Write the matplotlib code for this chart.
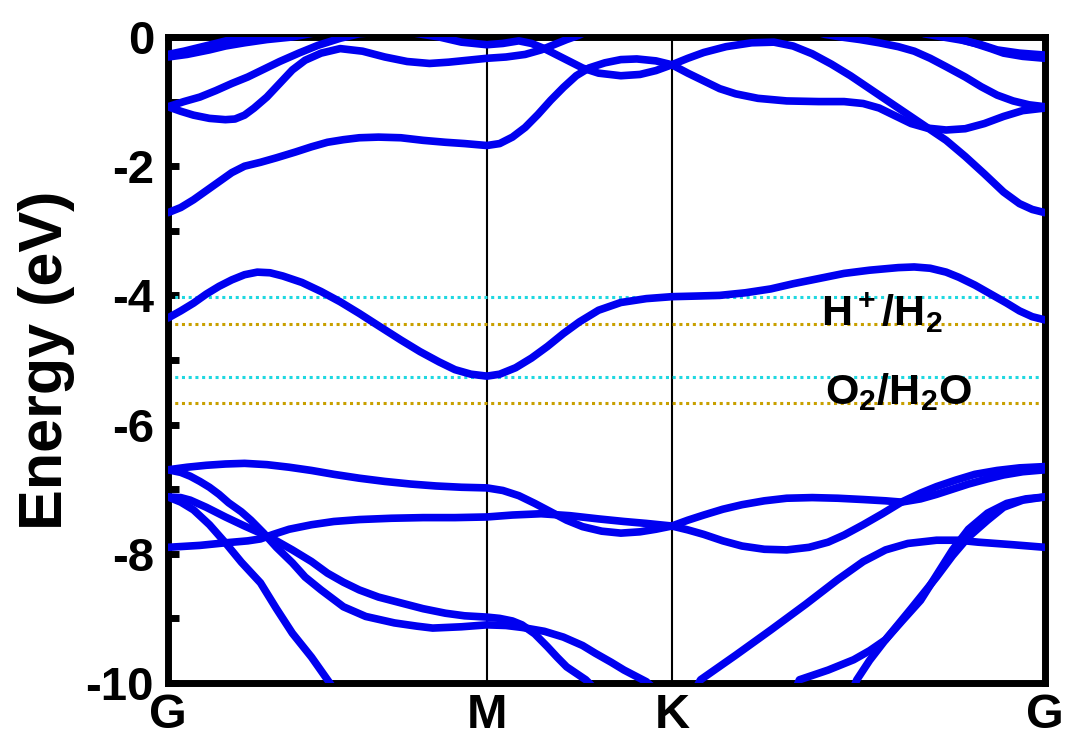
import numpy as np
import matplotlib
matplotlib.use("Agg")
import matplotlib.pyplot as plt

plt.rcParams["font.family"] = ["Liberation Sans", "DejaVu Sans"]
plt.rcParams["font.weight"] = "bold"
plt.rcParams["axes.unicode_minus"] = False
plt.rcParams["mathtext.fontset"] = "custom"
plt.rcParams["mathtext.rm"] = "Liberation Sans:bold"
plt.rcParams["mathtext.it"] = "Liberation Sans:bold"
plt.rcParams["mathtext.bf"] = "Liberation Sans:bold"

# high symmetry points (path length, G-M = 1)
k_ticks = [0.0, 1.0, 1.58, 2.75]
k_labels = ["G", "M", "K", "G"]

# bands: (k, E in eV)
band1_k = [0, 0.06, 0.13, 0.18, 0.24, 0.31, 0.39, 0.5]
band1_e = [-0.31, -0.27, -0.2, -0.14, -0.09, -0.04, 0.0, 0.1]
band2_k = [0, 0.05, 0.10, 0.15, 0.19, 0.24, 0.29, 0.4]
band2_e = [-0.27, -0.22, -0.16, -0.1, -0.05, -0.01, 0.03, 0.1]
band3_k = [0, 0.05, 0.10, 0.15, 0.20, 0.25, 0.30, 0.35, 0.41, 0.47, 0.54, 0.60, 0.72, 0.85, 0.92,
           1.0, 1.05, 1.10, 1.14, 1.18, 1.22, 1.26, 1.30, 1.35, 1.42, 1.48, 1.53, 1.58, 1.63, 1.68,
           1.75, 1.83, 1.90, 1.96, 2.02, 2.08, 2.14, 2.20, 2.26, 2.32, 2.38, 2.44, 2.50, 2.56, 2.62,
           2.67, 2.71, 2.75]
band3_e = [-1.08, -1.0, -0.93, -0.83, -0.72, -0.62, -0.5, -0.38, -0.25, -0.13, -0.02, 0.05, 0.1, 0.0,
           -0.08, -0.12, -0.1, -0.06, -0.1, -0.18, -0.28, -0.38, -0.48, -0.56, -0.6, -0.58, -0.52,
           -0.43, -0.33, -0.24, -0.15, -0.09, -0.08, -0.14, -0.26, -0.42, -0.6, -0.8, -1.0, -1.2,
           -1.4, -1.6, -1.85, -2.12, -2.4, -2.58, -2.67, -2.72]
band4_k = [0, 0.04, 0.08, 0.13, 0.18, 0.21, 0.24, 0.27, 0.31, 0.35, 0.39, 0.43, 0.48, 0.54, 0.61,
           0.68, 0.75, 0.82, 0.88, 0.94, 1.0, 1.06, 1.12, 1.17, 1.21, 1.25, 1.29, 1.40, 1.6, 1.85,
           1.98, 2.06, 2.11, 2.17, 2.23, 2.29, 2.34, 2.39, 2.44, 2.50, 2.55, 2.60, 2.65, 2.70, 2.75]
band4_e = [-1.08, -1.15, -1.21, -1.26, -1.28, -1.27, -1.21, -1.1, -0.93, -0.72, -0.51, -0.36, -0.25,
           -0.18, -0.22, -0.31, -0.38, -0.41, -0.39, -0.36, -0.33, -0.31, -0.27, -0.2, -0.12, -0.04,
           0.03, 0.3, 0.5, 0.35, 0.15, 0.04, 0.0, -0.04, -0.09, -0.15, -0.22, -0.33, -0.46, -0.62,
           -0.77, -0.9, -0.99, -1.05, -1.08]
band5_k = [0, 0.04, 0.08, 0.12, 0.16, 0.20, 0.24, 0.29, 0.34, 0.40, 0.45, 0.50, 0.55, 0.60, 0.66,
           0.73, 0.80, 0.87, 0.93, 1.0, 1.04, 1.08, 1.12, 1.16, 1.20, 1.24, 1.28, 1.32, 1.37, 1.42,
           1.47, 1.53, 1.58, 1.63, 1.68, 1.73, 1.78, 1.85, 1.94, 2.04, 2.12, 2.18, 2.23, 2.28, 2.33,
           2.38, 2.44, 2.50, 2.56, 2.62, 2.68, 2.75]
band5_e = [-2.72, -2.64, -2.52, -2.38, -2.24, -2.1, -2.0, -1.94, -1.87, -1.78, -1.7, -1.63, -1.59,
           -1.56, -1.55, -1.56, -1.6, -1.63, -1.65, -1.68, -1.65, -1.55, -1.4, -1.2, -0.98, -0.78,
           -0.6, -0.48, -0.4, -0.35, -0.34, -0.37, -0.43, -0.56, -0.68, -0.8, -0.88, -0.95, -0.99,
           -1.0, -1.0, -1.03, -1.1, -1.22, -1.34, -1.41, -1.44, -1.42, -1.34, -1.23, -1.14, -1.1]
band6_k = [2.37, 2.43, 2.49, 2.55, 2.60, 2.67, 2.75]
band6_e = [0.05, 0.0, -0.05, -0.12, -0.2, -0.25, -0.28]
band7_k = [2.42, 2.48, 2.53, 2.58, 2.62, 2.68, 2.75]
band7_e = [0.05, -0.03, -0.1, -0.18, -0.25, -0.3, -0.33]
band8_k = [0, 0.04, 0.08, 0.12, 0.16, 0.20, 0.24, 0.28, 0.32, 0.36, 0.42, 0.48, 0.54, 0.60, 0.66,
           0.73, 0.79, 0.85, 0.90, 0.95, 1.0, 1.04, 1.09, 1.14, 1.19, 1.24, 1.29, 1.35, 1.42, 1.50,
           1.58, 1.66, 1.73, 1.81, 1.89, 1.96, 2.04, 2.12, 2.20, 2.29, 2.34, 2.39, 2.44, 2.48, 2.53,
           2.58, 2.63, 2.67, 2.71, 2.75]
band8_e = [-4.35, -4.24, -4.12, -3.98, -3.86, -3.76, -3.68, -3.64, -3.65, -3.7, -3.8, -3.94, -4.1,
           -4.28, -4.47, -4.69, -4.87, -5.03, -5.15, -5.22, -5.25, -5.22, -5.12, -4.97, -4.79, -4.59,
           -4.41, -4.23, -4.11, -4.05, -4.02, -4.01, -4.0, -3.96, -3.9, -3.82, -3.74, -3.66, -3.61,
           -3.57, -3.56, -3.58, -3.64, -3.72, -3.84, -3.98, -4.12, -4.24, -4.33, -4.38]
band9_k = [0, 0.06, 0.12, 0.18, 0.24, 0.31, 0.38, 0.45, 0.52, 0.60, 0.68, 0.76, 0.84, 0.92, 1.0,
           1.05, 1.10, 1.15, 1.20, 1.25, 1.30, 1.36, 1.42, 1.48, 1.53, 1.58, 1.63, 1.68, 1.74, 1.80,
           1.87, 1.94, 2.02, 2.10, 2.18, 2.25, 2.30, 2.36, 2.41, 2.46, 2.51, 2.57, 2.62, 2.68, 2.75]
band9_e = [-6.7, -6.66, -6.63, -6.61, -6.6, -6.62, -6.66, -6.71, -6.77, -6.83, -6.88, -6.92, -6.95,
           -6.97, -6.98, -7.02, -7.1, -7.22, -7.35, -7.48, -7.58, -7.65, -7.68, -7.66, -7.62, -7.57,
           -7.48, -7.4, -7.31, -7.24, -7.18, -7.14, -7.13, -7.14, -7.16, -7.18, -7.2, -7.15, -7.08,
           -7.0, -6.92, -6.84, -6.78, -6.73, -6.7]
band10_k = [0, 0.1, 0.18, 0.25, 0.29, 0.33, 0.38, 0.45, 0.52, 0.6, 0.7, 0.8, 0.9, 1.0, 1.08, 1.17,
            1.26, 1.35, 1.43, 1.50, 1.58, 1.63, 1.68, 1.74, 1.80, 1.87, 1.94, 2.01, 2.07, 2.12, 2.18,
            2.24, 2.30, 2.36, 2.41, 2.47, 2.53, 2.60, 2.67, 2.75]
band10_e = [-7.9, -7.87, -7.83, -7.8, -7.77, -7.7, -7.62, -7.55, -7.5, -7.47, -7.45, -7.44, -7.44,
            -7.43, -7.4, -7.38, -7.41, -7.46, -7.5, -7.53, -7.57, -7.63, -7.7, -7.8, -7.88, -7.93,
            -7.94, -7.9, -7.82, -7.71, -7.55, -7.38, -7.2, -7.06, -6.96, -6.86, -6.77, -6.71, -6.67,
            -6.65]
band11_k = [0, 0.04, 0.07, 0.10, 0.13, 0.16, 0.19, 0.23, 0.26, 0.30, 0.34, 0.39, 0.43, 0.48, 0.55,
            0.62, 0.71, 0.78, 0.83, 0.92, 1.0, 1.06, 1.11, 1.18, 1.24, 1.30, 1.34, 1.39, 1.43, 1.50,
            1.55]
band11_e = [-6.7, -6.74, -6.8, -6.88, -6.97, -7.08, -7.21, -7.35, -7.48, -7.68, -7.9, -8.14, -8.36,
            -8.56, -8.82, -8.97, -9.07, -9.12, -9.15, -9.13, -9.1, -9.11, -9.14, -9.2, -9.29, -9.42,
            -9.54, -9.68, -9.8, -9.98, -10.2]
band12_k = [0, 0.04, 0.07, 0.12, 0.18, 0.24, 0.29, 0.34, 0.39, 0.45, 0.50, 0.55, 0.60, 0.66, 0.73,
            0.80, 0.87, 0.93, 1.0, 1.04, 1.08, 1.11, 1.15, 1.19, 1.22, 1.25, 1.31, 1.36]
band12_e = [-7.12, -7.13, -7.17, -7.28, -7.43, -7.57, -7.68, -7.8, -7.94, -8.12, -8.3, -8.44, -8.56,
            -8.67, -8.76, -8.85, -8.92, -8.96, -8.98, -9.0, -9.04, -9.1, -9.24, -9.44, -9.6, -9.75,
            -9.95, -10.2]
band13_k = [0, 0.04, 0.08, 0.13, 0.18, 0.23, 0.29, 0.34, 0.39, 0.45, 0.50, 0.55]
band13_e = [-7.12, -7.2, -7.32, -7.55, -7.83, -8.13, -8.45, -8.85, -9.23, -9.6, -9.95, -10.3]
band14_k = [1.62, 1.67, 1.78, 1.89, 2.0, 2.10, 2.18, 2.25, 2.32, 2.41, 2.48, 2.54, 2.65, 2.75]
band14_e = [-10.4, -9.95, -9.57, -9.18, -8.78, -8.4, -8.12, -7.94, -7.84, -7.79, -7.79, -7.82,
            -7.86, -7.9]
band15_k = [1.95, 1.98, 2.07, 2.15, 2.20, 2.25, 2.30, 2.36, 2.41, 2.46, 2.51, 2.57, 2.63, 2.69, 2.75]
band15_e = [-10.3, -9.95, -9.8, -9.64, -9.5, -9.33, -9.05, -8.72, -8.33, -7.94, -7.62, -7.37, -7.22,
            -7.15, -7.12]
band16_k = [2.13, 2.16, 2.20, 2.25, 2.33, 2.41, 2.46, 2.51, 2.57, 2.62, 2.68, 2.75]
band16_e = [-10.3, -9.95, -9.65, -9.33, -8.85, -8.36, -8.03, -7.74, -7.48, -7.28, -7.17, -7.12]

bands = [
    (band1_k, band1_e), (band2_k, band2_e), (band3_k, band3_e), (band4_k, band4_e),
    (band5_k, band5_e), (band6_k, band6_e), (band7_k, band7_e), (band8_k, band8_e),
    (band9_k, band9_e), (band10_k, band10_e), (band11_k, band11_e), (band12_k, band12_e),
    (band13_k, band13_e), (band14_k, band14_e), (band15_k, band15_e), (band16_k, band16_e),
]

# redox potentials (pH 7 in cyan, pH 0 in gold)
redox_ph7 = [-4.03, -5.26]
redox_ph0 = [-4.44, -5.67]

fig = plt.figure(figsize=(10.66, 7.44), dpi=100)
ax = fig.add_axes([0.1576, 0.082, 0.8227, 0.8683])

for kk, ee in bands:
    ax.plot(kk, ee, color="#0000f0", lw=5.5, solid_joinstyle="round", solid_capstyle="round", zorder=3)

for e in redox_ph7:
    ax.axhline(e, color="#1fd8e0", lw=2.2, ls=(0, (1, 1.2)), zorder=2)
for e in redox_ph0:
    ax.axhline(e, color="#c8a000", lw=2.2, ls=(0, (1, 1.2)), zorder=2)

for k in k_ticks[1:-1]:
    ax.axvline(k, color="black", lw=1.5, zorder=1)

ax.text(2.24, -4.27, r"H$^+$/H$_2$", fontsize=31, ha="center", va="center")
ax.text(2.29, -5.5, r"O$_2$/H$_2$O", fontsize=31, ha="center", va="center")

ax.set_xlim(k_ticks[0], k_ticks[-1])
ax.set_ylim(-10, 0)
ax.set_xticks(k_ticks)
ax.set_xticklabels(k_labels)
ax.set_yticks(np.arange(-10, 1, 2))
ax.set_yticks(np.arange(-9, 0, 2), minor=True)
ax.tick_params(axis="y", which="both", direction="in", length=8, width=5, labelsize=34, pad=10)
ax.tick_params(axis="x", length=0, labelsize=35, pad=7)
ax.set_ylabel("Energy (eV)", fontsize=44, fontweight="bold", labelpad=8)
for s in ax.spines.values():
    s.set_linewidth(5)

fig.savefig("out.png", dpi=100)
